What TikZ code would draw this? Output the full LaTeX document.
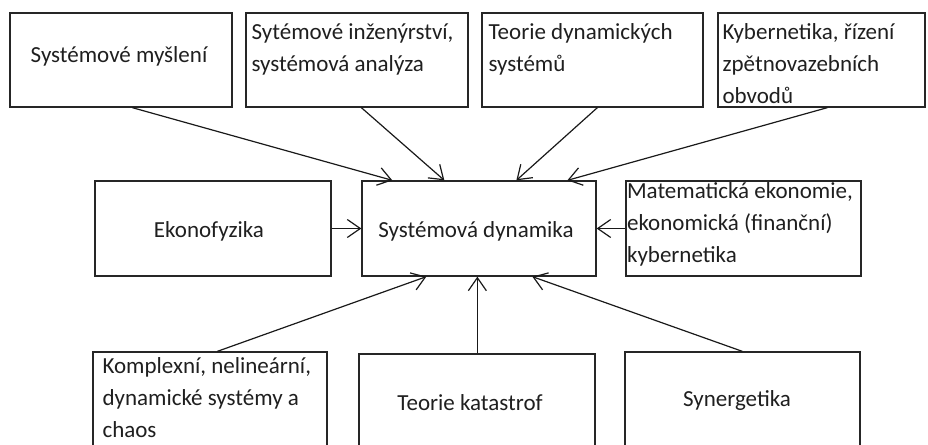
\documentclass[tikz,border=0pt]{standalone}
\usepackage{fontspec}
\setmainfont{Carlito}
\usetikzlibrary{arrows.meta}
\begin{document}
\begin{tikzpicture}[x=1pt,y=-1pt,
  box/.style args={#1/#2}{draw=black!85, line width=1.3pt, minimum width=#1pt,
    minimum height=#2pt, inner sep=0pt},
  boxtext/.style={anchor=north west, inner sep=0pt, align=left,
    font=\fontsize{23}{32}\selectfont, text=black!88},
  ctext/.style={anchor=base, inner sep=0pt, font=\fontsize{23}{32}\selectfont, text=black!88},
  link/.style={draw=black!90, line width=1.2pt,
    -{Straight Barb[length=13pt,width=18pt]}}]
\useasboundingbox (0,0) rectangle (928,444);
\clip (0,0) rectangle (928,444);

% top row
\node[box=222/94] (b1) at (121,60) {};
\node[box=222/94] (b2) at (357,60) {};
\node[box=221/94] (b3) at (592.5,60) {};
\node[box=207/94] (b4) at (821.5,60) {};

% middle row
\node[box=236/95] (ek) at (213,228.5) {};
\node[box=234/95] (sd) at (479,228.5) {};
\node[box=235/95] (me) at (743.5,228.5) {};

% bottom row (cut by the lower edge)
\node[box=234/118] (ko) at (210,411) {};
\node[box=236/116] (tk) at (477,412) {};
\node[box=235/118] (sy) at (742.5,411) {};

% labels
\node[ctext] (l1) at (119,63) {Systémové myšlení};
\node[boxtext] (l2) at ([xshift=6pt,yshift=-11pt]b2.north west) {Sytémové inženýrství,\\systémová analýza};
\node[boxtext] (l3) at ([xshift=7pt,yshift=-11pt]b3.north west) {Teorie dynamických\\systémů};
\node[boxtext] (l4) at ([xshift=5pt,yshift=-11pt]b4.north west) {Kybernetika, řízení\\zpětnovazebních\\obvodů};
\node[ctext] (lek) at (209,237) {Ekonofyzika};
\node[ctext] (lsd) at (476,237) {Systémová dynamika};
\node[boxtext] (lme) at ([xshift=1.5pt,yshift=-2pt]me.north west) {Matematická ekonomie,\\ekonomická (finanční)\\kybernetika};
\node[boxtext] (lko) at ([xshift=10pt,yshift=-6pt]ko.north west) {Komplexní, nelineární,\\dynamické systémy a\\chaos};
\node[ctext] (ltk) at (470,410) {Teorie katastrof};
\node[ctext] (lsy) at (737,406) {Synergetika};

% connectors into the central box
\draw[link] ([xshift=123pt]b1.south west) -- ([xshift=31pt]sd.north west);
\draw[link] ([xshift=116pt]b2.south west) -- ([xshift=83pt]sd.north west);
\draw[link] ([xshift=116pt]b3.south west) -- ([xshift=155pt]sd.north west);
\draw[link] ([xshift=110pt]b4.south west) -- ([xshift=206pt]sd.north west);
\draw[link] (ek) -- (sd);
\draw[link] (me) -- (sd);
\draw[link] ([xshift=125pt]ko.north west) -- ([xshift=65pt]sd.south west);
\draw[link] ([xshift=119pt]tk.north west) -- ([xshift=116pt]sd.south west);
\draw[link] ([xshift=118pt]sy.north west) -- ([xshift=171pt]sd.south west);
\end{tikzpicture}
\end{document}
